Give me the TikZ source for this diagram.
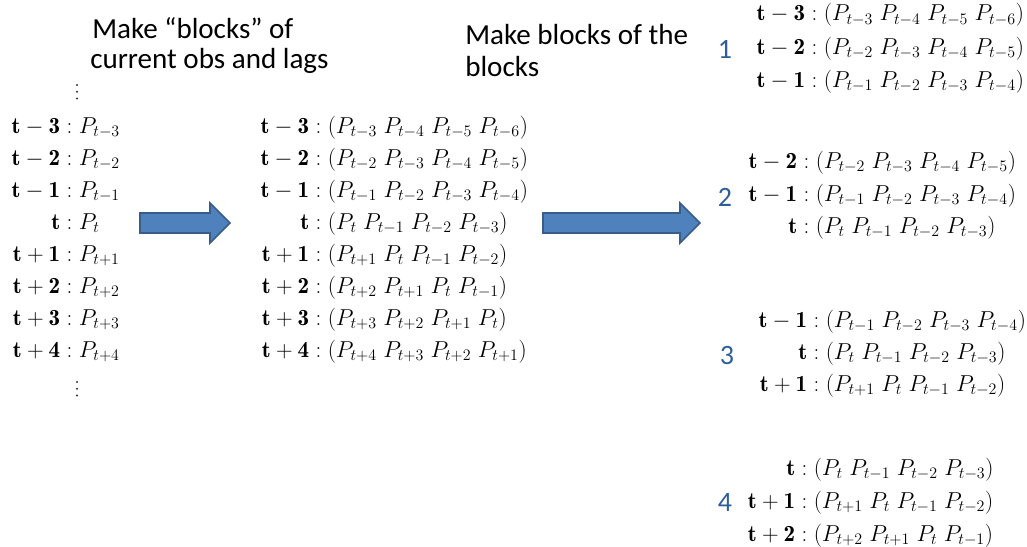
\documentclass[tikz,border=0pt]{standalone}
\usepackage{fontspec}
\newfontfamily\calib{Carlito}
\usepackage{amsmath}
\definecolor{arrowfill}{HTML}{4F81BD}
\definecolor{arrowedge}{HTML}{385D8A}
\definecolor{numblue}{HTML}{2E5E9A}
\tikzset{
  row/.style={anchor=base west, inner sep=0pt, font=\fontsize{17.3}{20}\selectfont},
  title/.style={anchor=west, inner sep=0pt, font=\calib\fontsize{21.8}{24}\selectfont, align=left},
  num/.style={inner sep=0pt, font=\calib\fontsize{21}{24}\selectfont, text=numblue},
  blockarrow/.style={fill=arrowfill, draw=arrowedge, line width=1.3pt, line join=miter},
  dotmark/.style={fill=black!80}
}
\newcommand\rw[5]{\node[row] (#1) at (#2,#3) {\makebox[0pt][r]{$\mathbf{#4}$}${}:#5$};}
\begin{document}
\begin{tikzpicture}[x=0.75pt,y=-0.75pt]
\useasboundingbox (0,0) rectangle (1027,546);
% titles
\node[title] (ti1a) at (92,28) {Make “blocks” of};
\node[title] (ti1b) at (90,61) {current obs and lags};
\node[title] (ti2a) at (465,35) {Make blocks of the};
\node[title] (ti2b) at (465,67) {blocks};
% left column
\foreach \yy in {85,91.7,98.4} \fill[dotmark] (77,\yy) circle (1.1);
\rw{l1}{60}{133}{t-3}{P_{t-3}}
\rw{l2}{60}{165}{t-2}{P_{t-2}}
\rw{l3}{60}{197}{t-1}{P_{t-1}}
\rw{l4}{60}{229}{t}{P_{t}}
\rw{l5}{60}{261}{t+1}{P_{t+1}}
\rw{l6}{60}{293}{t+2}{P_{t+2}}
\rw{l7}{60}{325}{t+3}{P_{t+3}}
\rw{l8}{60}{357}{t+4}{P_{t+4}}
\foreach \yy in {382,388.7,395.4} \fill[dotmark] (77,\yy) circle (1.1);
% middle column
\rw{m1}{309}{133}{t-3}{(P_{t-3}\;P_{t-4}\;P_{t-5}\;P_{t-6})}
\rw{m2}{309}{165}{t-2}{(P_{t-2}\;P_{t-3}\;P_{t-4}\;P_{t-5})}
\rw{m3}{309}{197}{t-1}{(P_{t-1}\;P_{t-2}\;P_{t-3}\;P_{t-4})}
\rw{m4}{309}{229}{t}{(P_{t}\;P_{t-1}\;P_{t-2}\;P_{t-3})}
\rw{m5}{309}{261}{t+1}{(P_{t+1}\;P_{t}\;P_{t-1}\;P_{t-2})}
\rw{m6}{309}{293}{t+2}{(P_{t+2}\;P_{t+1}\;P_{t}\;P_{t-1})}
\rw{m7}{309}{325}{t+3}{(P_{t+3}\;P_{t+2}\;P_{t+1}\;P_{t})}
\rw{m8}{309}{357}{t+4}{(P_{t+4}\;P_{t+3}\;P_{t+2}\;P_{t+1})}
% arrows
\draw[blockarrow] (140,213) -- (210,213) -- (210,203) -- (230,223) -- (210,243) -- (210,233) -- (140,233) -- cycle;
\draw[blockarrow] (543,213) -- (680,213) -- (680,203) -- (700,223) -- (680,243) -- (680,233) -- (543,233) -- cycle;
% right groups
\node[num] (n1) at (725,49) {1};
\rw{a1}{805}{21}{t-3}{(P_{t-3}\;P_{t-4}\;P_{t-5}\;P_{t-6})}
\rw{a2}{805}{54}{t-2}{(P_{t-2}\;P_{t-3}\;P_{t-4}\;P_{t-5})}
\rw{a3}{805}{87}{t-1}{(P_{t-1}\;P_{t-2}\;P_{t-3}\;P_{t-4})}
\node[num] (n2) at (725,197) {2};
\rw{b1}{797}{168}{t-2}{(P_{t-2}\;P_{t-3}\;P_{t-4}\;P_{t-5})}
\rw{b2}{797}{201}{t-1}{(P_{t-1}\;P_{t-2}\;P_{t-3}\;P_{t-4})}
\rw{b3}{797}{233}{t}{(P_{t}\;P_{t-1}\;P_{t-2}\;P_{t-3})}
\node[num] (n3) at (727,356) {3};
\rw{c1}{807}{327}{t-1}{(P_{t-1}\;P_{t-2}\;P_{t-3}\;P_{t-4})}
\rw{c2}{807}{359}{t}{(P_{t}\;P_{t-1}\;P_{t-2}\;P_{t-3})}
\rw{c3}{807}{391}{t+1}{(P_{t+1}\;P_{t}\;P_{t-1}\;P_{t-2})}
\node[num] (n4) at (725,503) {4};
\rw{d1}{795}{475}{t}{(P_{t}\;P_{t-1}\;P_{t-2}\;P_{t-3})}
\rw{d2}{795}{508}{t+1}{(P_{t+1}\;P_{t}\;P_{t-1}\;P_{t-2})}
\rw{d3}{795}{541}{t+2}{(P_{t+2}\;P_{t+1}\;P_{t}\;P_{t-1})}
\end{tikzpicture}
\end{document}
